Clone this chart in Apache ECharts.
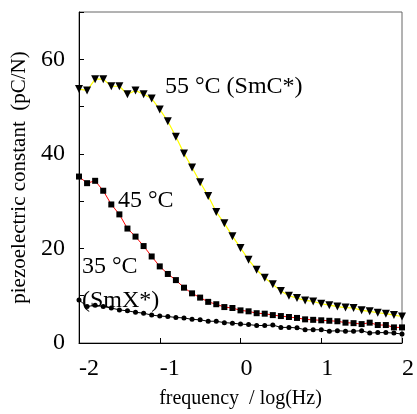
<!DOCTYPE html>
<html>
<head>
<meta charset="utf-8">
<script src="https://cdn.jsdelivr.net/npm/echarts@6/dist/echarts.min.js"></script>
<style>
html,body{margin:0;padding:0;background:#fff;}
#chart{width:417px;height:414px;}
</style>
</head>
<body>
<div id="chart"></div>
<script>
// log frequency (decades)
const logFreq = [-2.0,-1.9,-1.8,-1.7,-1.6,-1.5,-1.4,-1.3,-1.2,-1.1,-1.0,-0.9,-0.8,-0.7,-0.6,-0.5,-0.4,-0.3,-0.2,-0.1,0.0,0.1,0.2,0.3,0.4,0.5,0.6,0.7,0.8,0.9,1.0,1.1,1.2,1.3,1.4,1.5,1.6,1.7,1.8,1.9,2.0];
// piezoelectric constant (pC/N)
const t55 = [53.7,53.4,55.8,55.8,54.3,54.3,52.6,53.4,52.6,51.7,49.4,46.9,43.6,40.1,37.1,34.0,31.1,27.7,25.3,22.6,20.1,17.6,15.5,13.8,12.4,11.0,10.0,9.5,9.0,8.8,8.3,8.0,7.7,7.5,7.4,6.9,6.7,6.4,6.2,5.9,5.6];
const t45 = [35.2,33.8,34.3,32.2,29.3,27.2,24.2,22.5,20.5,18.3,16.2,14.6,13.3,11.7,10.5,9.6,8.7,8.2,7.6,7.4,6.9,6.7,6.3,6.2,5.9,5.7,5.5,5.3,5.0,4.9,4.8,4.7,4.6,4.3,4.2,4.0,4.3,3.8,3.8,3.3,3.3];
const t35 = [9.1,7.7,8.0,7.7,7.4,7.0,6.8,6.5,6.3,5.9,5.7,5.6,5.4,5.3,5.0,4.9,4.6,4.6,4.3,4.2,4.0,3.9,3.7,3.7,3.8,3.3,3.3,3.2,2.8,2.8,2.8,2.5,2.6,2.5,2.5,2.6,2.1,2.2,2.2,2.1,1.9];
const seriesNames = ['55 °C (SmC*)', '45 °C', '35 °C\n(SmX*)'];
const xTitle = 'frequency  / log(Hz)';
const yTitle = 'piezoelectric constant  (pC/N)';

const pairs = arr => logFreq.map((x, i) => [x, arr[i]]);
const FONT = '"Liberation Serif", "Times New Roman", serif';

const chart = echarts.init(document.getElementById('chart'), null, {renderer: 'canvas'});
chart.setOption({
  animation: false,
  backgroundColor: '#fff',
  grid: {left: 79, right: 8, top: 12, bottom: 69, show: true, borderColor: '#666', borderWidth: 1},
  xAxis: {
    type: 'value', min: -2, max: 2, interval: 1,
    name: xTitle, nameLocation: 'middle', nameGap: 46,
    nameTextStyle: {fontFamily: FONT, fontSize: 20, color: '#000'},
    axisLine: {show: true, onZero: false, lineStyle: {color: '#000', width: 1}},
    axisTick: {show: true, inside: true, length: 5, lineStyle: {color: '#000'}},
    axisLabel: {fontFamily: FONT, fontSize: 24, color: '#000', margin: 14, align: 'left', showMaxLabel: true, showMinLabel: true},
    splitLine: {show: false}
  },
  yAxis: {
    type: 'value', min: 0, max: 70, interval: 10,
    name: yTitle, nameLocation: 'middle', nameGap: 48, nameRotate: 90,
    nameTextStyle: {fontFamily: FONT, fontSize: 21, color: '#000'},
    axisLine: {show: true, onZero: false, lineStyle: {color: '#000', width: 1}},
    axisTick: {show: true, inside: true, length: 5, lineStyle: {color: '#000'}},
    axisLabel: {fontFamily: FONT, fontSize: 24, color: '#000', margin: 14,
      formatter: v => (v % 20 === 0 ? String(v) : '')},
    splitLine: {show: false}
  },
  series: [
    {name: seriesNames[0], type: 'line', data: pairs(t55), symbol: 'triangle', symbolRotate: 180, symbolSize: 8,
     lineStyle: {color: '#ffff00', width: 1.2}, itemStyle: {color: '#000'}, z: 3},
    {name: seriesNames[1], type: 'line', data: pairs(t45), symbol: 'rect', symbolSize: 6,
     lineStyle: {color: '#ff0000', width: 1}, itemStyle: {color: '#000'}, z: 3},
    {name: seriesNames[2], type: 'line', data: pairs(t35), symbol: 'circle', symbolSize: 5,
     lineStyle: {color: '#000', width: 1}, itemStyle: {color: '#000'}, z: 3}
  ],
  graphic: [
    {type: 'text', x: 165, y: 87, z: 10, style: {text: seriesNames[0], font: '24px ' + FONT, fill: '#000', textAlign: 'left', textVerticalAlign: 'middle'}},
    {type: 'text', x: 118, y: 201, z: 10, style: {text: seriesNames[1], font: '24px ' + FONT, fill: '#000', textAlign: 'left', textVerticalAlign: 'middle'}},
    {type: 'text', x: 82, y: 284, z: 10, style: {text: seriesNames[2], font: '24px ' + FONT, fill: '#000', textAlign: 'left', textVerticalAlign: 'middle', lineHeight: 34}}
  ]
});
</script>
</body>
</html>
